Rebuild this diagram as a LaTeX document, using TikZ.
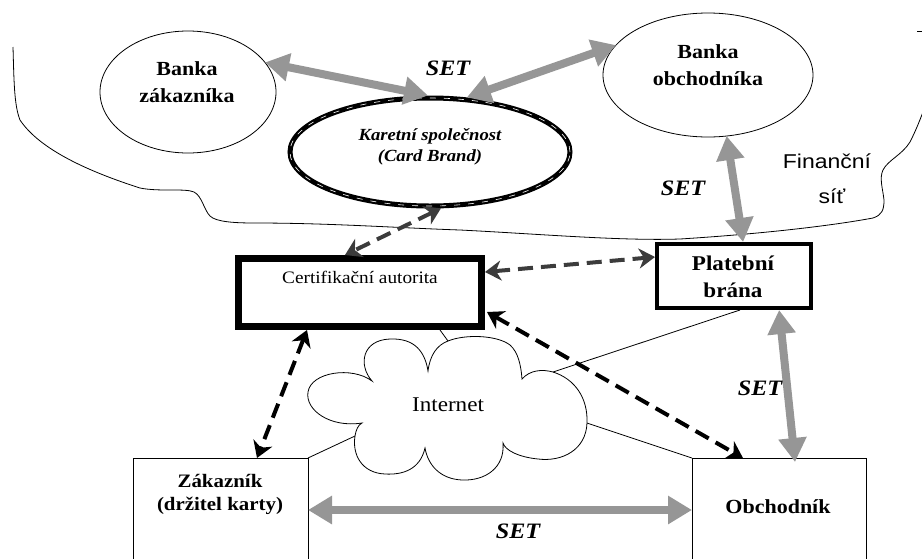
\documentclass[tikz,border=0pt]{standalone}
\usepackage{fontspec}
\setmainfont{Liberation Serif}[FakeStretch=1.1]
\newfontfamily\finfont{Liberation Sans}[FakeStretch=1.15]
\usetikzlibrary{arrows.meta,shapes.geometric,calc}
\definecolor{setgray}{RGB}{150,150,150}
\definecolor{dashgray}{RGB}{60,60,60}

\begin{document}
\begin{tikzpicture}[x=1pt,y=-1pt,
  every node/.style={inner sep=0pt, outer sep=0pt},
  wire/.style={line width=0.8pt},
  bank/.style={ellipse, draw, line width=0.8pt},
  lbl/.style={font=\fontsize{20}{27}\selectfont\bfseries, align=center},
  setlbl/.style={font=\fontsize{22}{24}\selectfont\bfseries\itshape},
  setarrow/.style={draw=setgray, line width=8pt, {Triangle[length=24pt,width=27pt]}-{Triangle[length=24pt,width=27pt]}},
  certarrow/.style={line width=4pt, dash pattern=on 15pt off 8pt,
    {Stealth[length=16pt,width=20pt,inset=5pt]}-{Stealth[length=16pt,width=20pt,inset=5pt]}}
]
\useasboundingbox (0,0) rectangle (922,558);
\clip (0,0) rectangle (922,558);

% boundary of the financial network
\draw[wire] (13,47) .. controls (14,80) and (14,105) .. (20,120)
  .. controls (40,150) and (90,172) .. (140,188)
  .. controls (160,192) and (185,188) .. (194,192)
  .. controls (202,196) and (204,210) .. (210,216)
  .. controls (216,222) and (235,223) .. (255,223)
  .. controls (330,223) and (400,228) .. (460,230)
  .. controls (540,234) and (620,241) .. (680,239)
  .. controls (760,234) and (830,226) .. (873,218)
  .. controls (882,215) and (884,210) .. (884,200)
  .. controls (883,190) and (879,178) .. (883,170)
  .. controls (888,160) and (902,155) .. (910,142)
  .. controls (915,132) and (918,125) .. (923,112);
\draw[wire] (917,31) -- (923,31);
\node[font=\finfont\fontsize{20}{22}\selectfont, anchor=base] (fin) at (827,168) {Finanční};
\node[font=\finfont\fontsize{20}{22}\selectfont, anchor=base] (sit) at (832,203) {síť};

% banks and card brand
\node[bank, minimum width=176, minimum height=122] (bz) at (188,92) {};
\node[lbl, anchor=base] (bzt) at (187,102) {Banka\\zákazníka};
\node[bank, minimum width=210, minimum height=124] (bo) at (708,75) {};
\node[lbl, anchor=base] (bot) at (708,85) {Banka\\obchodníka};
\node[ellipse, draw, line width=5pt, outer sep=2.5pt, minimum width=280, minimum height=108,
  postaction={draw=white, line width=0.6pt, dash pattern=on 6pt off 8pt}] (cb) at (430,152) {};
\node[font=\fontsize{17}{21}\selectfont\bfseries\itshape, align=center, anchor=base] (cbt) at (430,161)
  {Karetní společnost\\(Card Brand)};

% certification authority and payment gateway
\node[draw, line width=7pt, outer sep=3.5pt, minimum width=243, minimum height=68] (ca) at (360,292.5) {};
\node[font=\fontsize{17.5}{20}\selectfont, anchor=base] (cat) at (360,283) {Certifikační autorita};
\node[draw, line width=4pt, outer sep=2pt, minimum width=154, minimum height=64] (pb) at (734,276) {};
\node[lbl, font=\fontsize{21}{27}\selectfont\bfseries, anchor=base] (pbt) at (733,297) {Platební\\brána};

% customer and merchant
\node[draw, wire, anchor=north west, minimum width=175, minimum height=160] (zk) at (133,458) {};
\node[font=\fontsize{19}{23}\selectfont\bfseries, align=center, anchor=base] (zkt) at (220,510) {Zákazník\\(držitel karty)};
\node[draw, wire, anchor=north west, minimum width=174, minimum height=160] (ob) at (692,458) {};
\node[font=\fontsize{20}{23}\selectfont\bfseries, anchor=base] (obt) at (778,513) {Obchodník};

% the Internet cloud
\draw[wire] (362,423)
  .. controls (330,428) and (305,410) .. (308,392)
  .. controls (311,372) and (352,366) .. (372,381)
  .. controls (358,365) and (362,340) .. (390,339)
  .. controls (415,338) and (425,352) .. (428,371)
  .. controls (430,355) and (437,345) .. (448,341) coordinate (ctop)
  .. controls (465,334) and (497,335) .. (510,345)
  .. controls (518,352) and (521,365) .. (522,379)
  .. controls (530,370) and (542,369) .. (553,372) coordinate (cpb)
  .. controls (575,379) and (588,398) .. (587,423) coordinate (cob)
  .. controls (586,450) and (562,462) .. (538,459)
  .. controls (518,457) and (505,450) .. (503,443)
  .. controls (505,468) and (485,481) .. (462,480)
  .. controls (440,479) and (428,465) .. (425,448)
  .. controls (420,470) and (402,475) .. (385,474)
  .. controls (362,473) and (352,455) .. (355,436) coordinate (czk)
  .. controls (356,430) and (358,425) .. (362,423) -- cycle;
\node[font=\fontsize{21}{24}\selectfont, anchor=base] (inet) at (448,411) {Internet};

\draw[wire] (zk.north east) -- (czk);
\draw[wire] ($(ca.south)+(80,0)$) -- (ctop);
\draw[wire] (cpb) -- ($(pb.south)+(6,0)$);
\draw[wire] (cob) -- (ob.north west);

% SET message flows
\draw[setarrow] (bz.21) -- (cb.92);
\draw[setarrow] (cb.56) -- (bo.162);
\draw[setarrow] (bo.-73) -- (pb.75);
\draw[setarrow] (pb.-37.7) -- ($(ob.north west)+(103,4)$);
\draw[setarrow] ($(zk.north east)+(0,52)$) -- ($(ob.north west)+(0,52)$);
\node[setlbl, anchor=base] (s1) at (448,75) {SET};
\node[setlbl, anchor=base] (s2) at (683,195) {SET};
\node[setlbl, anchor=base] (s3) at (760,395) {SET};
\node[setlbl, anchor=base] (s4) at (518,538) {SET};

% certificate exchanges
\draw[certarrow, draw=dashgray] (cb.-79.5) -- ($(ca.north)+(-15,0)$);
\draw[certarrow, draw=dashgray] ($(ca.north east)+(0,17)$) -- ($(pb.north west)+(0,15)$);
\draw[certarrow] ($(ca.south east)+(2,-18)$) -- ($(ob.north west)+(51,0)$);
\draw[certarrow] ($(ca.south)+(-53,0)$) -- ($(zk.north west)+(124,0)$);
\end{tikzpicture}
\end{document}
